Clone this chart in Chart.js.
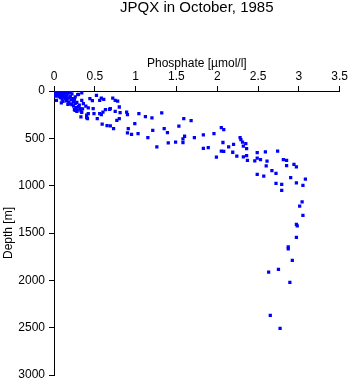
<!DOCTYPE html>
<html>
<head>
<meta charset="utf-8">
<script src="https://cdn.jsdelivr.net/npm/chart.js@4"></script>
<style>
  html, body { margin: 0; padding: 0; background: #fff; }
  #wrap { width: 350px; height: 384px; }
</style>
</head>
<body>
<div id="wrap"><canvas id="chart" width="350" height="384"></canvas></div>
<script>
// =====================
// DATA
// =====================
const chartTitle = "JPQX in October, 1985";
const xTitle = "Phosphate [\u00b5mol/l]";
const yTitle = "Depth [m]";

const xTicks = [0, 0.5, 1, 1.5, 2, 2.5, 3, 3.5];
const yTicks = [0, 500, 1000, 1500, 2000, 2500, 3000];

// phosphate values, paired with depth below
const phosphate = [
    // surface cluster
    0.00, 0.02, 0.03, 0.05, 0.06, 0.08, 0.09, 0.11, 0.12, 0.14,
    0.15, 0.01, 0.03, 0.05, 0.07, 0.09, 0.11, 0.13, 0.16, 0.04,
    0.10, 0.13, 0.17, 0.18, 0.02, 0.06, 0.08, 0.15, 0.20, 0.22,
    0.03, 0.08, 0.10, 0.12, 0.14, 0.16, 0.18, 0.20, 0.21, 0.23,
    0.11, 0.15, 0.18, 0.24, 0.26, 0.20, 0.22, 0.09, 0.26, 0.17,
    0.25, 0.29, 0.34, 0.28, 0.24, 0.27, 0.30, 0.32, 0.29, 0.35,
    0.31, 0.34, 0.26,
    // upper slope
    0.30, 0.34, 0.44, 0.47, 0.52, 0.56, 0.58, 0.61, 0.72, 0.75,
    0.78, 0.80, 0.36, 0.39, 0.25, 0.28, 0.33, 0.42, 0.48, 0.49,
    0.63, 0.69, 0.75, 0.89, 0.90, 1.04, 1.12, 0.33, 0.40, 0.41,
    0.53, 0.58, 0.59, 0.65, 0.69, 0.73, 0.77, 0.80, 0.91, 0.99,
    0.95, 1.03, 1.15, 1.21, 1.26, 1.35, 1.32, 1.20, 0.90, 0.40,
    0.42, 0.56, 0.60, 0.68, 0.81,
    // nutricline
    1.59, 1.68, 1.39, 1.53, 1.40, 1.49, 1.58, 1.60, 1.58, 1.72,
    1.83, 1.96, 2.05, 2.08, 2.07, 1.83, 1.89, 1.99, 2.05, 2.08,
    2.14, 2.20, 2.19, 2.24, 2.28, 2.29, 2.31, 2.35, 2.36, 2.32,
    2.36, 2.37, 2.46, 2.49, 2.49, 2.49, 2.32, 2.53, 2.59, 2.61,
    2.74, 2.81, 2.85, 2.85, 2.94, 2.97, 2.60, 2.67, 2.72, 2.57,
    2.72, 2.79, 2.79, 2.90, 2.97, 3.05, 3.08,
    // deep water
    3.04, 3.01, 3.05, 2.97, 2.98, 2.97, 2.87, 2.87, 2.92, 2.75,
    2.63, 2.89, 2.65, 2.77
];

const depth = [
    // surface cluster
    5, 0, 12, 3, 18, 8, 25, 10, 30, 15,
    5, 28, 38, 45, 33, 48, 40, 52, 35, 22,
    0, 0, 8, 22, 55, 60, 42, 58, 15, 30,
    98, 70, 85, 65, 78, 90, 72, 60, 95, 80,
    110, 105, 118, 110, 130, 135, 145, 125, 62, 140,
    90, 38, 20, 120, 160, 175, 165, 185, 200, 190,
    150, 225, 205,
    // upper slope
    35, 98, 80, 101, 45, 98, 74, 88, 74, 98,
    106, 169, 133, 161, 196, 214, 211, 179, 186, 238,
    196, 186, 214, 222, 249, 238, 270, 274, 281, 291,
    291, 249, 351, 365, 369, 397, 309, 291, 397, 344,
    457, 449, 492, 415, 591, 397, 232, 285, 443, 256,
    238, 238, 222, 193, 228,
    // nutricline
    291, 312, 439, 372, 549, 541, 506, 478, 544, 492,
    464, 449, 386, 407, 544, 605, 597, 699, 636, 639,
    591, 565, 647, 689, 492, 513, 541, 555, 608, 696,
    682, 734, 739, 650, 710, 882, 583, 724, 644, 742,
    636, 724, 734, 787, 776, 802, 791, 840, 871, 900,
    977, 987, 1051, 914, 971, 998, 932,
    // deep water
    1171, 1216, 1315, 1409, 1424, 1547, 1646, 1667, 1789, 1884,
    1913, 2021, 2370, 2507
];

// =====================
// BUILD POINTS
// =====================
let points = phosphate.map((p, i) => ({ x: p, y: depth[i] }));

const font = "'Liberation Sans', Arial, Helvetica, sans-serif";

new Chart(document.getElementById("chart"), {
    type: "scatter",
    data: {
        datasets: [{
            data: points,
            pointStyle: "rect",
            pointRadius: 2.3,
            pointBorderWidth: 0,
            backgroundColor: "#0000ff",
            borderColor: "#0000ff"
        }]
    },
    options: {
        responsive: false,
        animation: false,
        layout: { padding: { left: 0, right: 10, top: 0, bottom: 9 } },
        plugins: {
            legend: { display: false },
            tooltip: { enabled: false },
            title: {
                display: true,
                fullSize: false,
                text: chartTitle,
                color: "#000",
                font: { family: font, size: 15, weight: "normal", lineHeight: 1.1 },
                padding: { top: 0, bottom: 0 }
            }
        },
        scales: {
            x: {
                type: "linear",
                position: "top",
                min: 0,
                max: 3.5,
                afterBuildTicks: s => { s.ticks = xTicks.map(v => ({ value: v })); },
                afterFit: s => { s.height = 74.5; },
                ticks: {
                    color: "#000",
                    font: { family: font, size: 12 },
                    padding: 2,
                    maxRotation: 0,
                    callback: v => String(v)
                },
                grid: { drawOnChartArea: false, drawTicks: true, tickLength: 5, color: "#000" },
                border: { display: true, color: "#000", width: 1 },
                title: {
                    display: true,
                    text: xTitle,
                    color: "#000",
                    font: { family: font, size: 12 },
                    padding: { top: 40, bottom: 0 }
                }
            },
            y: {
                type: "linear",
                reverse: true,
                min: 0,
                max: 3000,
                afterBuildTicks: s => { s.ticks = yTicks.map(v => ({ value: v })); },
                afterFit: s => { s.width = 54; s.paddingBottom = 0; s.paddingTop = 0; },
                ticks: {
                    color: "#000",
                    font: { family: font, size: 12 },
                    padding: 4,
                    callback: v => String(v)
                },
                grid: { drawOnChartArea: false, drawTicks: true, tickLength: 5, color: "#000" },
                border: { display: true, color: "#000", width: 1 },
                title: {
                    display: true,
                    text: yTitle,
                    color: "#000",
                    font: { family: font, size: 12 },
                    padding: { top: 1, bottom: 0 }
                }
            }
        }
    }
});
</script>
</body>
</html>
